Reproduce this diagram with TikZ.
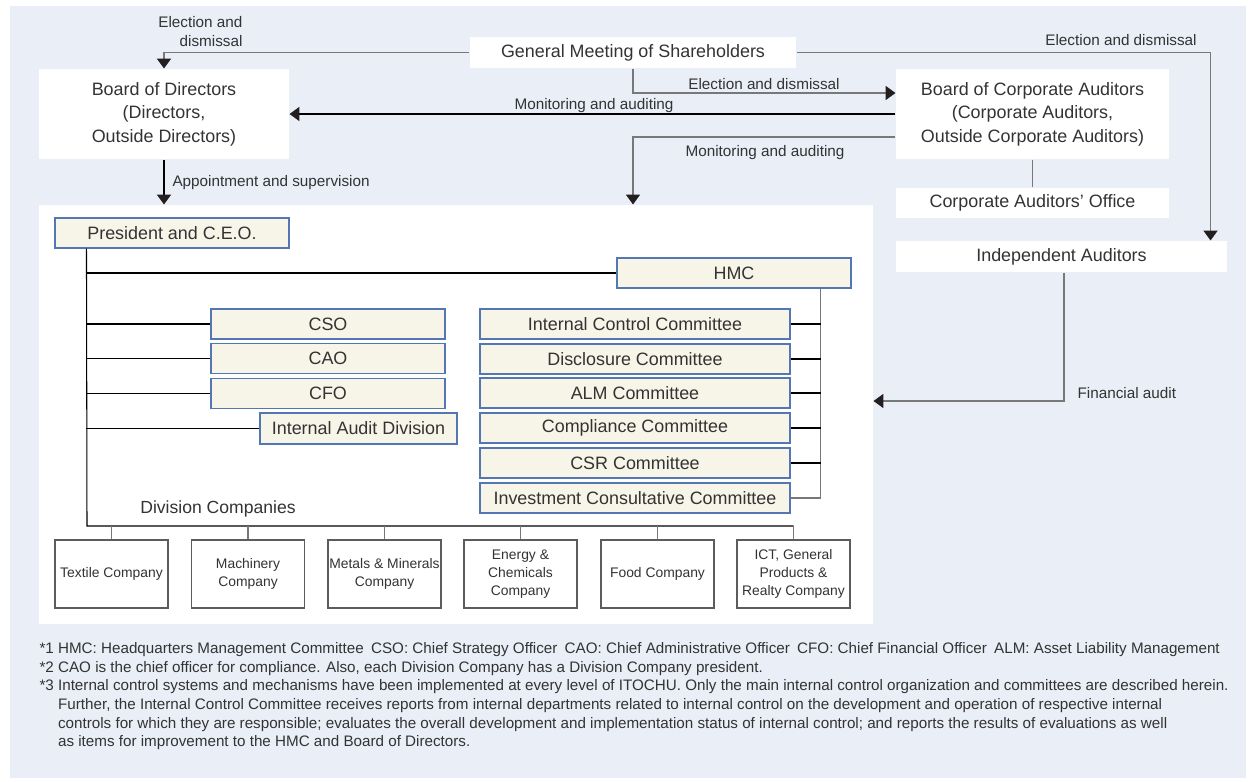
\documentclass[tikz,border=0pt]{standalone}
\usepackage{fontspec}
\setmainfont{Liberation Sans}
\usetikzlibrary{arrows.meta}
\definecolor{bgblue}{RGB}{233,238,247}
\definecolor{cream}{RGB}{247,244,232}
\definecolor{boxblue}{RGB}{84,118,178}
\definecolor{txtgray}{RGB}{51,51,51}
\definecolor{linegray}{RGB}{120,120,120}
\definecolor{tipblack}{RGB}{35,31,32}

\tikzset{
  wh/.style 2 args={minimum width=#1*0.02cm, minimum height=#2*0.02cm},
  plainbox/.style={fill=white, inner sep=0pt, align=center, text=txtgray, font=\fontsize{10.2}{13.4}\selectfont},
  officebox/.style={plainbox, fill=cream, draw=boxblue, line width=0.6pt},
  compbox/.style={plainbox, draw=txtgray!80, line width=0.6pt, font=\fontsize{7.9}{10.2}\selectfont},
  lbl/.style={inner sep=0pt, text=txtgray, font=\fontsize{8.7}{10.8}\selectfont},
  arw/.style={-{Triangle[width=8pt,length=5.6pt,color=tipblack]}},
}

\begin{document}
\begin{tikzpicture}[x=0.02cm, y=-0.02cm, line width=0.6pt]
  \useasboundingbox (0,0) rectangle (1254,781);
  \fill[bgblue] (10,6) rectangle (1246,778);

  % governance bodies
  \node[plainbox, wh={326}{31}] (gms) at (633,52.5) {General Meeting of Shareholders};
  \node[plainbox, wh={250}{90}] (bod) at (164,114) {Board of Directors\\(Directors,\\Outside Directors)};
  \node[plainbox, wh={273}{90}] (boca) at (1032.5,114) {Board of Corporate Auditors\\(Corporate Auditors,\\Outside Corporate Auditors)};
  \node[plainbox, wh={273}{30}] (caoff) at (1032.5,203) {Corporate Auditors' Office};
  \node[plainbox, wh={331}{31}] (ia) at (1061.5,256.5) {Independent Auditors};

  % execution side
  \node[fill=white, inner sep=0pt, wh={834}{419}] (panel) at (456,414.5) {};
  \node[officebox, wh={234}{30}] (pres) at (172,233) {President and C.E.O.};
  \node[officebox, wh={234}{30}] (hmc) at (734,273) {HMC};
  \node[officebox, wh={234}{30}] (cso) at (328,324) {CSO};
  \node[officebox, wh={234}{30}] (cao) at (328,358.5) {CAO};
  \node[officebox, wh={234}{30}] (cfo) at (328,393.5) {CFO};
  \node[officebox, wh={197}{31}] (iad) at (358.5,428.5) {Internal Audit Division};
  \node[officebox, wh={310}{30}] (ctrl) at (635,324) {Internal Control Committee};
  \node[officebox, wh={310}{30}] (discl) at (635,359) {Disclosure Committee};
  \node[officebox, wh={310}{30}] (alm) at (635,393) {ALM Committee};
  \node[officebox, wh={310}{30}] (compl) at (635,428) {Compliance Committee};
  \node[officebox, wh={310}{30}] (csr) at (635,463) {CSR Committee};
  \node[officebox, wh={310}{30}] (inv) at (635,498) {Investment Consultative Committee};

  % division companies
  \node[lbl, font=\fontsize{10}{12}\selectfont] (divlbl) at (218,509) {Division Companies};
  \node[compbox, wh={113}{68}] (textile) at (111.5,574) {Textile Company};
  \node[compbox, wh={113}{68}] (mach) at (248,574) {Machinery\\Company};
  \node[compbox, wh={113}{68}] (metals) at (384.5,574) {Metals \& Minerals\\Company};
  \node[compbox, wh={113}{68}] (energy) at (520.5,574) {Energy \&\\Chemicals\\Company};
  \node[compbox, wh={113}{68}] (food) at (657.5,574) {Food Company};
  \node[compbox, wh={113}{68}] (ict) at (793.5,574) {ICT, General\\Products \&\\Realty Company};

  % connectors between bodies
  \draw[linegray, arw] (gms.west) -| (bod.north);
  \draw[linegray, arw] (gms.east) -| ([xshift=-0.34cm]ia.north east);
  \draw[linegray, arw] (gms.south) |- ([yshift=0.42cm]boca.west);
  \draw[arw] (boca.west) -- (bod.east);
  \draw[linegray, arw] ([yshift=-0.46cm]boca.west) -| (gms.south |- panel.north);
  \draw[linegray] (boca.south) -- (caoff.north);
  \draw[linegray, arw] ([xshift=0.05cm]ia.south) |- ([yshift=0.27cm]panel.east);
  \draw[arw] (bod.south) -- (bod.south |- panel.north);

  \node[lbl, anchor=east, align=right] (elec1) at (243,32) {Election and\\dismissal};
  \node[lbl] (elec2) at (1121,40) {Election and dismissal};
  \node[lbl] (elec3) at (764,84) {Election and dismissal};
  \node[lbl] (mon1) at (594,106) {Monitoring and auditing};
  \node[lbl] (mon2) at (765,153) {Monitoring and auditing};
  \node[lbl, anchor=west] (appt) at (172,183) {Appointment and supervision};
  \node[lbl, anchor=west] (fin) at (1077,393) {Financial audit};

  % organisation lines
  \coordinate (trunk) at ([xshift=0.64cm]pres.south west);
  \coordinate (dc) at (87,526);
  \draw (trunk) -- (dc) -- (ict.north |- dc);
  \draw (hmc.west) -- (hmc.west -| trunk);
  \draw (cso.west) -- (cso.west -| trunk);
  \draw (cao.west) -- (cao.west -| trunk);
  \draw (cfo.west) -- (cfo.west -| trunk);
  \draw (iad.west) -- (iad.west -| trunk);
  \coordinate (hmcr) at ([xshift=-0.62cm]hmc.south east);
  \draw[linegray] (hmcr) |- (inv.east);
  \draw (ctrl.east) -- (ctrl.east -| hmcr);
  \draw (discl.east) -- (discl.east -| hmcr);
  \draw (alm.east) -- (alm.east -| hmcr);
  \draw (compl.east) -- (compl.east -| hmcr);
  \draw (csr.east) -- (csr.east -| hmcr);
  \foreach \c in {textile,mach,metals,energy,food,ict}
    \draw[linegray] (\c.north) -- (\c.north |- dc);

  % notes
  \node[lbl, anchor=north west, align=left, font=\fontsize{8.65}{10.6}\selectfont] (notes) at (39,642)
  {*1 HMC: Headquarters Management Committee\hspace{0.2em} CSO: Chief Strategy Officer\hspace{0.2em} CAO: Chief Administrative Officer\hspace{0.2em} CFO: Chief Financial Officer\hspace{0.2em} ALM: Asset Liability Management\\
   *2 CAO is the chief officer for compliance. Also, each Division Company has a Division Company president.\\
   *3 Internal control systems and mechanisms have been implemented at every level of ITOCHU. Only the main internal control organization and committees are described herein.\\
   \hphantom{*3 }Further, the Internal Control Committee receives reports from internal departments related to internal control on the development and operation of respective internal\\
   \hphantom{*3 }controls for which they are responsible; evaluates the overall development and implementation status of internal control; and reports the results of evaluations as well\\
   \hphantom{*3 }as items for improvement to the HMC and Board of Directors.};
\end{tikzpicture}
\end{document}
